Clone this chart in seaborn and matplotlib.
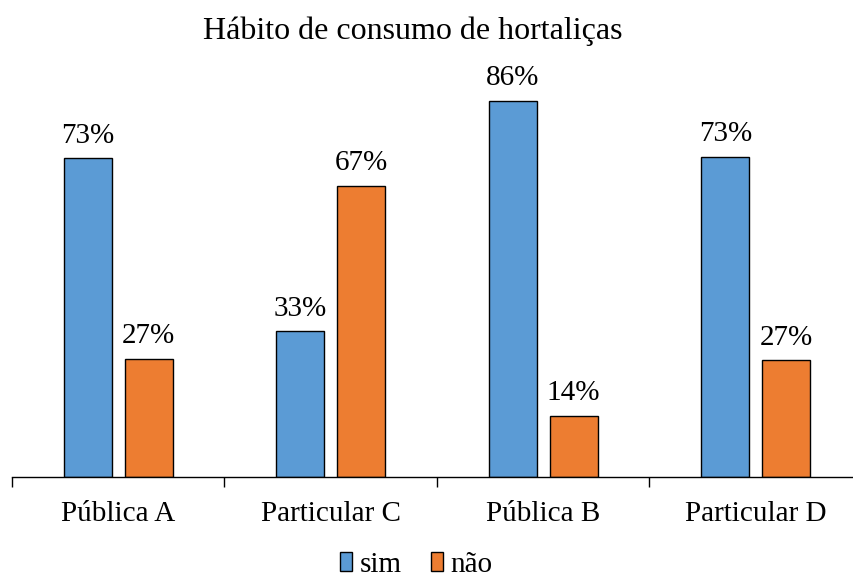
import numpy as np
import pandas as pd
import matplotlib
matplotlib.use("Agg")
import matplotlib.pyplot as plt
import seaborn as sns

# dados
escolas = ['Pública A', 'Particular C', 'Pública B', 'Particular D']
sim = [72.9, 33.3, 86.0, 73.3]
nao = [27.1, 66.7, 14.0, 26.7]
respostas = ['sim', 'não']
cores = ['#5B9BD5', '#ED7D31']

df = pd.DataFrame({
    'escola': escolas * 2,
    'resposta': ['sim'] * 4 + ['não'] * 4,
    'pct': sim + nao,
})

sns.set_style('white')
plt.rcParams['font.family'] = ['Liberation Serif', 'DejaVu Serif']
plt.rcParams['text.color'] = 'black'
plt.rcParams['xtick.color'] = 'black'
plt.rcParams['xtick.labelcolor'] = 'black'

fs = 21

fig = plt.figure(figsize=(8.54, 5.81), dpi=100)
ax = fig.add_axes([12 / 854, 1 - 477 / 581, 850 / 854, 437 / 581])

sns.barplot(data=df, x='escola', y='pct', hue='resposta', hue_order=respostas,
            palette=cores, width=0.572, gap=0.21, edgecolor='black',
            linewidth=1, saturation=1, ax=ax, legend=True)

for c in ax.containers:
    ax.bar_label(c, fmt='%.0f%%', padding=7, fontsize=fs, color='black')

ax.set_xlim(-0.5, 3.5)
ax.set_ylim(0, 100)
ax.set_xlabel('')
ax.set_ylabel('')
ax.set_yticks([])
for s in ['left', 'right', 'top']:
    ax.spines[s].set_visible(False)
ax.spines['bottom'].set_color('black')
ax.spines['bottom'].set_linewidth(1)

ax.set_xticks(range(4))
ax.set_xticklabels(escolas, fontsize=fs)
ax.set_xticks(np.arange(-0.5, 4, 1), minor=True)
ax.tick_params(axis='x', which='major', length=0, pad=17)
ax.tick_params(axis='x', which='minor', length=7, width=1, color='black', direction='out', bottom=True)

fig.text(412.5 / 854, 1 - 31 / 581, 'Hábito de consumo de hortaliças',
         ha='center', va='center', fontsize=23)

h, l = ax.get_legend_handles_labels()
ax.legend_.remove()
fig.legend(h, l, loc='center', bbox_to_anchor=(416 / 854, 1 - 565 / 581),
           ncol=2, frameon=False, fontsize=fs, handlelength=0.42,
           handleheight=0.6, handletextpad=0.25, columnspacing=1.0,
           borderpad=0.1)

fig.savefig('out.png', dpi=100)
